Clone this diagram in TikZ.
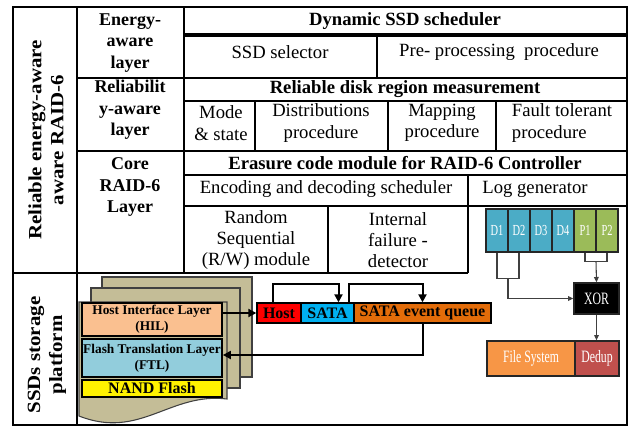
\documentclass[tikz,border=0pt]{standalone}
\usepackage{fontspec}
\setmainfont{Liberation Serif}
\newfontfamily\sidefont[FakeStretch=1.12]{Liberation Serif}
\newfontfamily\condfont[FakeStretch=0.68]{Liberation Serif}
\usetikzlibrary{arrows.meta,calc}

\definecolor{pagetan}{RGB}{196,189,151}
\definecolor{hilfill}{RGB}{250,192,144}
\definecolor{ftlfill}{RGB}{146,205,220}
\definecolor{hostred}{RGB}{255,0,0}
\definecolor{satablue}{RGB}{0,176,240}
\definecolor{queueorange}{RGB}{227,108,9}
\definecolor{datablue}{RGB}{75,172,198}
\definecolor{paritygreen}{RGB}{155,187,89}
\definecolor{fsorange}{RGB}{247,150,70}
\definecolor{dedupred}{RGB}{192,80,77}

\tikzset{
  grid/.style={line width=1.9pt},
  txt/.style={font=\fontsize{14}{16}\selectfont, align=center, inner sep=0pt},
  hdr/.style={font=\fontsize{14}{16}\selectfont\bfseries, inner sep=0pt},
  lay/.style={font=\fontsize{13.5}{16}\selectfont\bfseries, align=center, inner sep=0pt},
  side/.style={font=\sidefont\bfseries\fontsize{14}{16.5}\selectfont, align=center, rotate=90, inner sep=0pt},
  page/.style={fill=pagetan, draw=black!75, line width=0.8pt},
  ssdlayer/.style={draw=black, line width=1.3pt, minimum width=105pt, inner sep=0pt, align=center,
                   font=\fontsize{10}{12}\selectfont\bfseries},
  bus/.style={draw=black, line width=1pt, minimum height=15pt, inner sep=0pt,
              font=\fontsize{12}{14}\selectfont\bfseries},
  cell/.style={draw=black!85, line width=1pt, minimum width=16.5pt, minimum height=32.25pt,
               inner sep=0pt, text=white, font=\condfont\fontsize{11.5}{14}\selectfont},
  blk/.style={draw=black!85, line width=1pt, inner sep=0pt, text=white,
              font=\condfont\fontsize{13}{15}\selectfont},
  arr/.style={line width=1.5pt, -{Triangle[length=6pt,width=6pt]}},
  thin/.style={line width=0.8pt, draw=black!75},
  thinarr/.style={thin, -{Triangle[length=4pt,width=3.5pt]}},
}

\begin{document}
\begin{tikzpicture}[x=0.75pt,y=-0.75pt]
\useasboundingbox (0,0) rectangle (641,428);

% ---------- SSD device stack (drawn first, grid goes on top) ----------
\draw[page] (102,277) rectangle (252,377);
\draw[page] (91,288) rectangle (240,388);
\draw[page] (79,302) -- (227,302) -- (227,399)
  .. controls (170,392) and (140,440) .. (79,416) -- cycle;

\node[ssdlayer, fill=hilfill, minimum height=24.75pt] (hil) at (152,319.5)
  {Host Interface Layer\\(HIL)};
\node[ssdlayer, fill=ftlfill, minimum height=28.5pt] (ftl) at (152,358)
  {Flash Translation Layer\\(FTL)};
\node[ssdlayer, fill=yellow, minimum height=12.75pt, font=\fontsize{12}{14}\selectfont\bfseries]
  (nand) at (152,388.5) {NAND Flash};

% ---------- host-side path ----------
\node[bus, fill=hostred, minimum width=33pt] (host) at (279,313) {Host};
\node[bus, fill=satablue, minimum width=39.75pt] (sata) at (327.5,313) {SATA};
\node[bus, fill=queueorange, minimum width=102.75pt] (queue) at (422.5,313) {SATA event queue};

\draw[arr] (hil.east |- host.west) -- (host.west);
\draw[arr] ($(host.north)+(-6,0)$) -- ++(0,-18) -| ($(sata.north)+(11,0)$);
\draw[arr] ($(sata.north)+(21,0)$) -- ++(0,-18) -| (queue.north);
\draw[arr] (queue.south) |- ($(ftl.east)+(0,-3)$);

% ---------- RAID-6 stripe and parity path ----------
\foreach \n/\lbl/\col [count=\i from 0] in {d1/D1/datablue, d2/D2/datablue, d3/D3/datablue,
                                            d4/D4/datablue, p1/P1/paritygreen, p2/P2/paritygreen}
  \node[cell, fill=\col] (\n) at (497+22*\i,230.5) {\lbl};

\node[blk, fill=black, minimum width=33.75pt, minimum height=23.25pt] (xor) at (596.5,298.5) {XOR};
\node[blk, fill=fsorange, minimum width=66pt, minimum height=26.25pt] (fs) at (531,358.5) {File System};
\node[blk, fill=dedupred, minimum width=33pt, minimum height=26.25pt] (dedup) at (597,358.5) {Dedup};

\draw[thin] (d1.south) -- ++(0,26) -| (d2.south);
\draw[thinarr] ($(d1.south)!0.5!(d2.south)+(0,26)$) |- (xor.west);
\draw[thin] (p1.south) -- ++(0,9) -| (p2.south);
\draw[thinarr] ($(p1.south)!0.5!(p2.south)+(0,9)$) -- (xor.north);
\draw[thinarr] (xor.south) -- (xor.south |- dedup.north);

% ---------- table grid ----------
\draw[grid] (13,7) rectangle (627,425);
\draw[grid] (77,7) -- (77,425);
\draw[grid] (184,7) -- (184,273);
\draw[grid] (77,78) -- (627,78);
\draw[grid] (77,151) -- (627,151);
\draw[grid] (13,273) -- (468,273);
% energy-aware layer
\draw[line width=3pt] (184,35) -- (627,35);
\draw[grid] (377,35) -- (377,78);
% reliability-aware layer
\draw[grid] (184,101) -- (627,101);
\draw[grid] (255,101) -- (255,151);
\draw[grid] (388,101) -- (388,151);
\draw[grid] (496,101) -- (496,151);
% core RAID-6 layer
\draw[grid] (184,175) -- (627,175);
\draw[grid] (184,206) -- (627,206);
\draw[grid] (468,175) -- (468,273);
\draw[grid] (328,206) -- (328,273);

% ---------- side labels ----------
\node[side] (sRaid) at (46,140) {Reliable energy-aware\\aware RAID-6};
\node[side] (sSsd) at (47,355) {SSDs storage\\platform};

% ---------- layer labels ----------
\node[lay] (lEnergy) at (130,43) {Energy-\\aware\\layer};
\node[lay] (lRel) at (130,110) {Reliabilit\\y-aware\\layer};
\node[lay] (lCore) at (130,187) {Core\\RAID-6\\Layer};

% ---------- cell texts ----------
\node[hdr] (tDyn) at (405,21) {Dynamic SSD scheduler};
\node[txt] (tSel) at (280,52) {SSD selector};
\node[txt] (tPre) at (499,52) {Pre- processing\ \ procedure};

\node[hdr] (tRel) at (405,89) {Reliable disk region measurement};
\node[txt] (tMode) at (221,123) {Mode\\\& state};
\node[txt] (tDist) at (321,123) {Distributions\\procedure};
\node[txt] (tMap) at (442,123) {Mapping\\procedure};
\node[txt, align=left] (tFault) at (562,123) {Fault tolerant\\procedure};

\node[hdr] (tEra) at (405,163) {Erasure code module for RAID-6 Controller};
\node[txt] (tEnc) at (326,189) {Encoding and decoding scheduler};
\node[txt] (tLog) at (535,189) {Log generator};
\node[txt] (tRand) at (256,240) {Random\\Sequential\\(R/W) module};
\node[txt] (tInt) at (398,240) {Internal\\failure -\\detector};
\end{tikzpicture}
\end{document}
